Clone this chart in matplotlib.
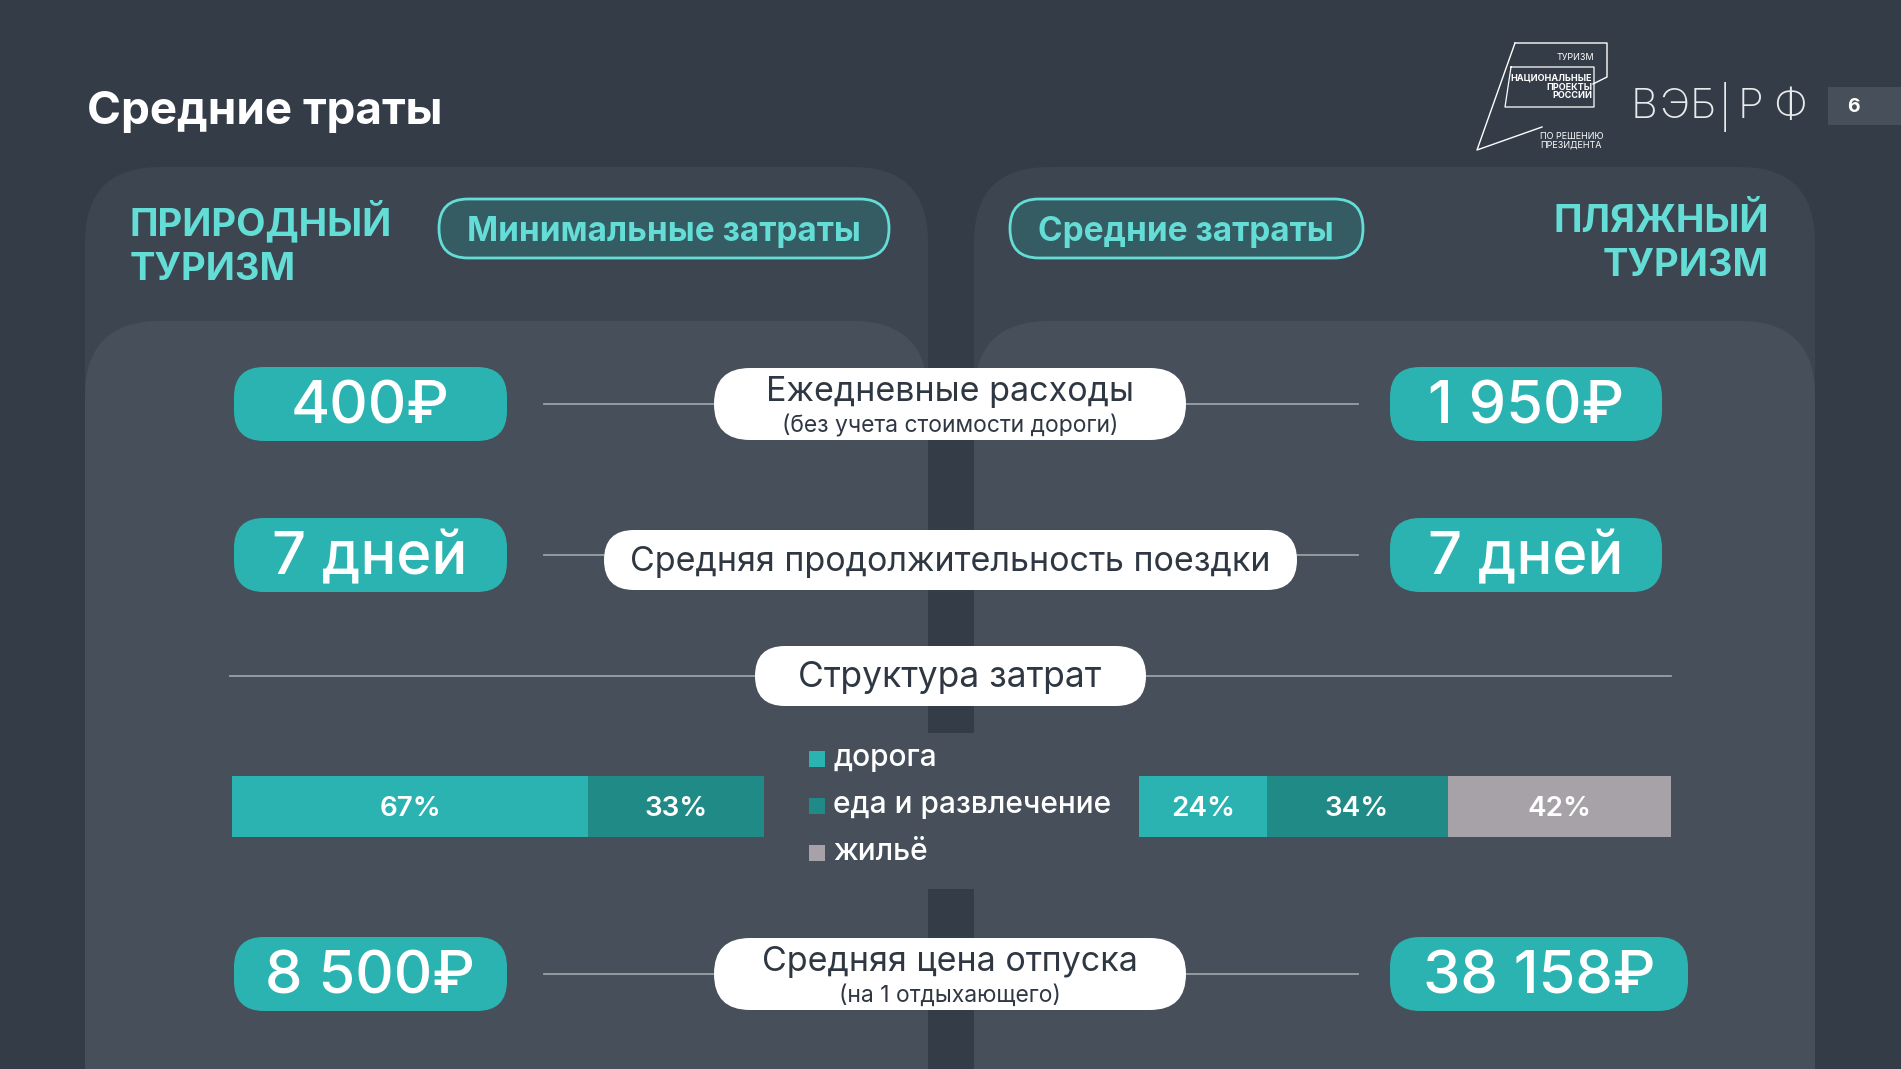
import matplotlib
matplotlib.use("Agg")
import matplotlib.pyplot as plt
from matplotlib.patches import FancyBboxPatch, Rectangle
import numpy as np

plt.rcParams['font.family'] = ['Inter', 'DejaVu Sans']

# ---- data ----
title = "Средние траты"
left_header = "ПРИРОДНЫЙ\nТУРИЗМ"
right_header = "ПЛЯЖНЫЙ\nТУРИЗМ"
left_tag = "Минимальные затраты"
right_tag = "Средние затраты"

row_titles = ["Ежедневные расходы", "Средняя продолжительность поездки", "Средняя цена отпуска"]
row_notes = ["(без учета стоимости дороги)", "", "(на 1 отдыхающего)"]
left_values = ["400₽", "7 дней", "8 500₽"]
right_values = ["1 950₽", "7 дней", "38 158₽"]

structure_title = "Структура затрат"
cost_categories = ["дорога", "еда и развлечение", "жильё"]
left_shares = [67, 33]
right_shares = [24, 34, 42]
page_number = "6"
logo_letters = ["В", "Э", "Б", "|", "Р", "Ф"]

# ---- colours ----
BG = "#333c47"
OUTER = "#3c4550"
INNER = "#47505a"
TEAL = "#2bb3b1"
TEAL_DARK = "#208a86"
GREY = "#a7a2a8"
LIGHT_TEAL = "#63ddd6"
TEXT_DARK = "#2f3842"
LINE = "#9aa0a6"
cat_colors = [TEAL, TEAL_DARK, GREY]

W, H = 1901, 1069
fig = plt.figure(figsize=(W / 100, H / 100), dpi=100, facecolor=BG)
ax = fig.add_axes([0, 0, 1, 1])
ax.set_xlim(0, W)
ax.set_ylim(H, 0)
ax.axis("off")


def rbox(x0, y0, x1, y1, r, fc, ec="none", lw=0, z=1):
    p = FancyBboxPatch((x0, y0), x1 - x0, y1 - y0,
                       boxstyle=f"round,pad=0,rounding_size={r}",
                       fc=fc, ec=ec, lw=lw, zorder=z)
    ax.add_patch(p)


# panels
rbox(85, 167, 928, 1250, 75, OUTER)
rbox(974, 167, 1815, 1250, 75, OUTER)
rbox(85, 321, 928, 1250, 75, INNER, z=2)
rbox(974, 321, 1815, 1250, 75, INNER, z=2)
ax.add_patch(Rectangle((926, 733), 50, 156, fc=INNER, ec="none", zorder=2))

# title
ax.text(87, 112, title, fontsize=33, fontweight="bold", color="white", va="center", ha="left")

# headers
ax.text(130, 244, left_header, fontsize=27.5, fontweight="bold", color=LIGHT_TEAL,
        va="center", ha="left", linespacing=1.3)
ax.text(1769, 244, right_header, fontsize=27.5, fontweight="bold", color=LIGHT_TEAL,
        va="center", ha="right", multialignment="right", linespacing=1.3)
rbox(439, 199, 889, 258, 29, "#365c63", ec=LIGHT_TEAL, lw=2, z=3)
ax.text(664, 232, left_tag, fontsize=24, fontweight="bold", color=LIGHT_TEAL, ha="center", va="center", zorder=4)
rbox(1010, 199, 1363, 258, 29, "#365c63", ec=LIGHT_TEAL, lw=2, z=3)
ax.text(1186, 232, right_tag, fontsize=24, fontweight="bold", color=LIGHT_TEAL, ha="center", va="center", zorder=4)

# value rows
row_y = [404, 555, 974]
center_pills = [(714, 1186, 368, 440), (604, 1297, 530, 590), (714, 1186, 938, 1010)]
right_pill_x = [(1390, 1662), (1390, 1662), (1390, 1688)]
for i, yc in enumerate(row_y):
    x0, x1, y0, y1 = center_pills[i]
    ax.plot([544, 1358], [yc, yc], color=LINE, lw=1.3, zorder=3)
    # left value pill
    rbox(234, yc - 37, 507, yc + 37, 30, TEAL, z=4)
    ax.text(370, yc + 4, left_values[i], fontsize=43, fontweight="medium", color="white",
            ha="center", va="center", zorder=5)
    # right value pill
    rx0, rx1 = right_pill_x[i]
    rbox(rx0, yc - 37, rx1, yc + 37, 30, TEAL, z=4)
    ax.text((rx0 + rx1) / 2, yc + 4, right_values[i], fontsize=43, fontweight="medium",
            color="white", ha="center", va="center", zorder=5)
    # centre label pill
    rbox(x0, y0, x1, y1, (y1 - y0) / 2, "white", z=4)
    if row_notes[i]:
        ax.text((x0 + x1) / 2, y0 + 24, row_titles[i], fontsize=24.5, color=TEXT_DARK,
                ha="center", va="center", zorder=5)
        ax.text((x0 + x1) / 2, y0 + 58, row_notes[i], fontsize=16.5, color=TEXT_DARK,
                ha="center", va="center", zorder=5)
    else:
        ax.text((x0 + x1) / 2, (y0 + y1) / 2 + 2, row_titles[i], fontsize=24.5, color=TEXT_DARK,
                ha="center", va="center", zorder=5)

# structure section
ax.plot([230, 1671], [676, 676], color=LINE, lw=1.3, zorder=3)
rbox(755, 646, 1146, 706, 30, "white", z=4)
ax.text(950, 678, structure_title, fontsize=25.5, color=TEXT_DARK, ha="center", va="center", zorder=5)

# legend
for k, cat in enumerate(cost_categories):
    ly = 758 + k * 47
    ax.add_patch(Rectangle((809, ly - 7), 16, 16, fc=cat_colors[k], ec="none", zorder=5))
    ax.text(833, ly, cat, fontsize=21.5, fontweight="medium", color="white", ha="left", va="center", zorder=5)


def share_bar(x0, x1, shares):
    bax = fig.add_axes([x0 / W, 1 - 837 / H, (x1 - x0) / W, 61 / H])
    lefts = np.concatenate([[0], np.cumsum(shares)[:-1]])
    bax.barh(0, shares, left=lefts, height=1, color=cat_colors[:len(shares)], edgecolor="none")
    for lft, s in zip(lefts, shares):
        bax.text(lft + s / 2, -0.04, f"{s}%", fontsize=20, fontweight="semibold", color="white",
                 ha="center", va="center")
    bax.set_xlim(0, 100)
    bax.set_ylim(-0.5, 0.5)
    bax.axis("off")


share_bar(232, 764, left_shares)
share_bar(1139, 1671, right_shares)

# logo block
lc = "white"
ax.plot([1515, 1607, 1607, 1593], [43, 43, 77, 84], color=lc, lw=1.0, zorder=5)
ax.plot([1515, 1477, 1542], [43, 150, 127], color=lc, lw=1.0, zorder=5)
ax.plot([1511, 1594, 1594, 1505, 1511], [67, 67, 107, 107, 67], color=lc, lw=0.9, zorder=5)
ax.text(1594, 57, "ТУРИЗМ", fontsize=6.5, color=lc, ha="right", va="center", zorder=6)
ax.text(1592, 87, "НАЦИОНАЛЬНЫЕ\nПРОЕКТЫ\nРОССИИ", fontsize=6.5, fontweight="bold", color=lc,
        ha="right", va="center", multialignment="right", linespacing=1.0, zorder=6)
ax.text(1540, 141, "ПО РЕШЕНИЮ\nПРЕЗИДЕНТА", fontsize=6.5, color=lc, ha="left", va="center",
        linespacing=1.0, zorder=6)
logo_x = [1644, 1674, 1703, 1725, 1750, 1790]
for ch, lx in zip(logo_letters, logo_x):
    ax.text(lx, 107, ch, fontsize=30, fontweight="light", color="#e8eaec", ha="center", va="center",
            zorder=6)
ax.add_patch(Rectangle((1828, 87), 80, 38, fc=INNER, ec="none", zorder=5))
ax.text(1853, 107, page_number, fontsize=14, fontweight="bold", color="white", ha="center", va="center", zorder=6)

fig.savefig("out.png", dpi=100, facecolor=BG)
